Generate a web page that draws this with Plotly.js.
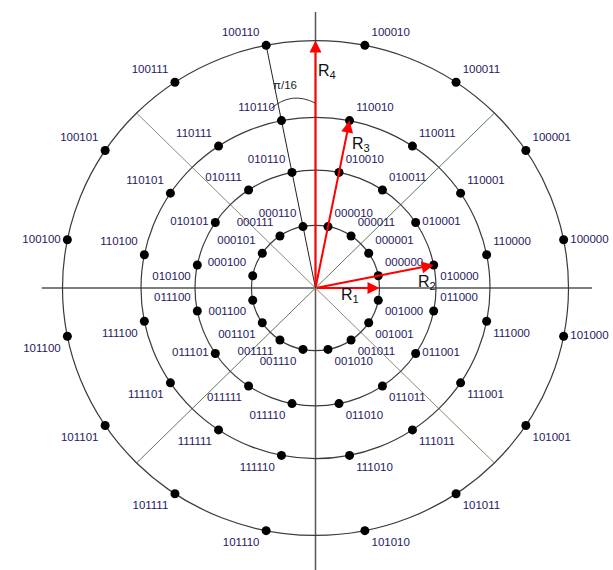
<!DOCTYPE html>
<html>
<head>
<meta charset="utf-8">
<script src="https://cdn.plot.ly/plotly-3.0.1.min.js"></script>
<style>html,body{margin:0;padding:0;background:#fff;}#chart{width:613px;height:570px;}</style>
</head>
<body>
<div id="chart"></div>
<script>
// ---- data ----
// ring radii (pixel-like units)
const ringRadius = [64, 120.5, 174.5, 253];
// phase of each point on a ring, in units of pi/16
const phaseIdx = [1, 3, 5, 7, 9, 11, 13, 15, 17, 19, 21, 23, 25, 27, 29, 31];
// bit labels per ring, in phase order
const ring1Labels = ['000000','000001','000011','000010','000110','000111','000101','000100',
                     '001100','001101','001111','001110','001010','001011','001001','001000'];
const ring2Labels = ['010000','010001','010011','010010','010110','010111','010101','010100',
                     '011100','011101','011111','011110','011010','011011','011001','011000'];
const ring3Labels = ['110000','110001','110011','110010','110110','110111','110101','110100',
                     '111100','111101','111111','111110','111010','111011','111001','111000'];
const ring4Labels = ['100000','100001','100011','100010','100110','100111','100101','100100',
                     '101100','101101','101111','101110','101010','101011','101001','101000'];
const arrowNames = ['R<sub>1</sub>','R<sub>2</sub>','R<sub>3</sub>','R<sub>4</sub>'];
const angleNote = 'π/16';

// ---- styles / placement ----
const TR='top right', TL='top left', BR='bottom right', BL='bottom left', MR='middle right', ML='middle left';
const ringTextPos = [
  [TR,TR,TR,TR,TL,TL,TL,TL,BL,BL,BL,BL,BR,BR,BR,BR],
  [BR,MR,TR,TR,TL,TL,ML,BL,TL,ML,BL,BL,BR,BR,MR,TR],
  [TR,TR,TR,TR,TL,TL,TL,TL,BL,BL,BL,BL,BR,BR,BR,BR],
  [MR,TR,TR,TR,TL,TL,TL,ML,BL,BL,BL,BL,BR,BR,BR,MR]
];
const ringLabels = [ring1Labels, ring2Labels, ring3Labels, ring4Labels];
const labelColor = '#1f1a5e';
const ky = 0.978; // vertical pixel scale relative to horizontal
const W = 613, H = 570, cx = 315.5, cy = 288;

function pt(r, k) { const a = k * Math.PI / 16; return [r * Math.cos(a), r * Math.sin(a)]; }

const traces = [];
ringLabels.forEach((labels, i) => {
  const xs = [], ys = [];
  phaseIdx.forEach(k => { const p = pt(ringRadius[i], k); xs.push(p[0]); ys.push(p[1]); });
  traces.push({
    type: 'scatter', mode: 'markers+text', x: xs, y: ys, text: labels,
    textposition: ringTextPos[i], cliponaxis: false, hoverinfo: 'skip',
    marker: {size: 9, color: '#000'},
    textfont: {family: 'Liberation Sans, Arial, sans-serif', size: 11.5, color: labelColor}
  });
});

const shapes = [];
// axes
shapes.push({type:'line', xref:'x', yref:'y', x0:-273.8, x1:276.5, y0:0, y1:0, line:{color:'#555', width:1.5}, layer:'below'});
shapes.push({type:'line', xref:'x', yref:'y', x0:0, x1:0, y0:282.2, y1:-300, line:{color:'#555', width:1.5}, layer:'below'});
// diagonals
const R4 = ringRadius[3];
const d1a = pt(R4, 12), d1b = pt(R4, 28);
shapes.push({type:'line', xref:'x', yref:'y', x0:d1a[0], y0:d1a[1], x1:d1b[0], y1:d1b[1], line:{color:'#8f8a70', width:1}, layer:'below'});
const d2a = pt(R4, 4), d2b = pt(R4, 20);
shapes.push({type:'line', xref:'x', yref:'y', x0:d2a[0], y0:d2a[1], x1:d2b[0], y1:d2b[1], line:{color:'#5b7a5e', width:1}, layer:'below'});
// radial line at 9*pi/16
const rl = pt(R4, 9);
shapes.push({type:'line', xref:'x', yref:'y', x0:0, y0:0, x1:rl[0], y1:rl[1], line:{color:'#222', width:1}, layer:'below'});
// circles
ringRadius.forEach(r => {
  shapes.push({type:'circle', xref:'x', yref:'y', x0:-r, x1:r, y0:-r, y1:r, line:{color:'#3a3a3a', width:1.2}, layer:'below'});
});
// pi/16 arc
const a0 = pt(189, 9.2), a1 = pt(189, 8), ac = pt(203, 8.6);
shapes.push({type:'path', xref:'x', yref:'y', path:`M${a0[0]},${a0[1]} Q${ac[0]},${ac[1]} ${a1[0]},${a1[1]}`, line:{color:'#333', width:1}, layer:'below'});

const annotations = [];
const tips = [pt(ringRadius[0], 0), pt(ringRadius[1], phaseIdx[0]), pt(ringRadius[2], phaseIdx[3]), pt(ringRadius[3], 8)];
tips.forEach(t => {
  annotations.push({x:t[0], y:t[1], ax:0, ay:0, axref:'x', ayref:'y', xref:'x', yref:'y', text:'', showarrow:true,
    arrowhead:2, arrowsize:1.2, arrowwidth:2, arrowcolor:'#ff0000', standoff:0, startstandoff:0});
});
const nameShift = [[-30,-7],[-7,-17],[11,-24],[11.5,-31]];
tips.forEach((t, i) => {
  annotations.push({x:t[0], y:t[1], xref:'x', yref:'y', text:arrowNames[i], showarrow:false,
    xshift:nameShift[i][0], yshift:nameShift[i][1],
    font:{family:'Liberation Sans, Arial, sans-serif', size:16, color:'#111'}});
});
const an = pt(210, 8.75);
annotations.push({x:an[0], y:an[1], xref:'x', yref:'y', text:angleNote, showarrow:false,
  font:{family:'Liberation Sans, Arial, sans-serif', size:11.5, color:'#222'}});

const layout = {
  width: W, height: H, margin:{l:0, r:0, t:0, b:0},
  paper_bgcolor:'#fff', plot_bgcolor:'#fff', showlegend:false,
  xaxis:{range:[-cx, W - cx], visible:false, fixedrange:true},
  yaxis:{range:[-(H - cy) / ky, cy / ky], visible:false, fixedrange:true},
  shapes: shapes, annotations: annotations
};
Plotly.newPlot('chart', traces, layout, {displayModeBar:false, staticPlot:true});
</script>
</body>
</html>
